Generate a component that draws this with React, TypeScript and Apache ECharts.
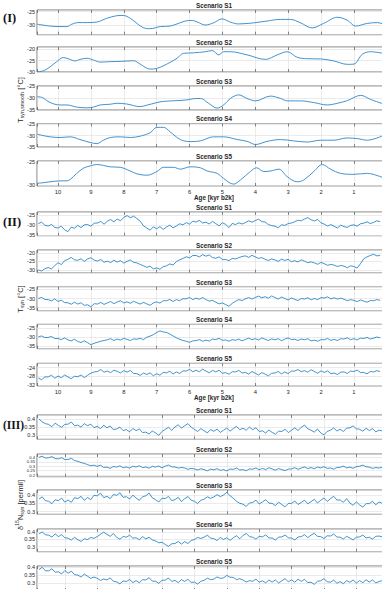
import React, { useEffect, useRef } from 'react';
import * as echarts from 'echarts';

// ---- (I) smoothed synthetic temperature, [age kyr b2k, °C] ----
const smoothS1 = [[10.64,-29.7],[10.24,-30.4],[9.94,-30.6],[9.73,-30.6],[9.58,-29.7],[9.39,-29.1],[9.12,-29.1],[8.82,-28.9],[8.52,-27.5],[8.21,-26.5],[8.02,-26.4],[7.8,-27.5],[7.6,-29.4],[7.41,-31.0],[7.2,-31.4],[6.89,-30.6],[6.59,-30.4],[6.38,-29.6],[6.08,-28.4],[5.92,-28.3],[5.76,-28.9],[5.52,-30.0],[5.27,-29.2],[5.01,-27.7],[4.76,-28.9],[4.51,-29.6],[4.05,-29.2],[3.64,-28.5],[3.23,-27.9],[2.93,-27.9],[2.62,-29.2],[2.27,-31.1],[1.92,-29.4],[1.5,-27.1],[1.2,-28.2],[0.95,-30.4],[0.59,-29.4],[0.28,-29.1],[0.12,-29.6]];
const smoothS2 = [[10.63,-30.0],[10.45,-29.6],[10.24,-27.8],[10.04,-25.5],[9.84,-23.7],[9.69,-24.2],[9.48,-25.2],[9.33,-24.5],[9.12,-24.0],[8.92,-24.8],[8.72,-25.7],[8.41,-25.5],[8.11,-25.4],[7.7,-25.1],[7.5,-26.6],[7.2,-28.8],[6.99,-28.5],[6.69,-26.6],[6.38,-24.0],[6.18,-21.8],[5.88,-21.6],[5.52,-21.1],[5.31,-20.6],[5.11,-22.5],[4.96,-21.1],[4.76,-21.1],[4.25,-22.5],[3.69,-24.5],[3.33,-22.5],[3.03,-21.1],[2.72,-23.6],[2.42,-24.2],[2.01,-24.3],[1.61,-25.2],[1.2,-26.7],[1.0,-26.6],[0.74,-22.2],[0.49,-21.1],[0.12,-21.8]];
const smoothS3 = [[10.63,-29.5],[10.5,-29.7],[10.24,-31.9],[9.94,-32.9],[9.73,-32.9],[9.43,-33.8],[9.12,-34.1],[8.92,-33.8],[8.72,-32.9],[8.41,-32.6],[8.21,-32.2],[7.91,-32.5],[7.5,-33.6],[7.3,-33.0],[6.99,-31.9],[6.79,-31.4],[6.38,-31.1],[6.08,-30.8],[5.88,-30.3],[5.67,-30.2],[5.42,-32.2],[5.16,-34.2],[4.96,-32.9],[4.76,-30.2],[4.5,-28.7],[4.25,-30.2],[3.99,-31.2],[3.54,-29.2],[3.23,-30.2],[3.03,-31.2],[2.62,-31.2],[2.22,-31.9],[1.81,-32.9],[1.5,-32.2],[1.2,-31.1],[0.79,-28.9],[0.49,-30.6],[0.12,-32.4]];
const smoothS4 = [[10.63,-29.3],[10.5,-29.8],[10.24,-30.5],[9.94,-30.8],[9.63,-30.5],[9.33,-31.7],[9.02,-33.0],[8.82,-33.5],[8.62,-32.0],[8.41,-30.8],[8.11,-30.5],[7.8,-30.8],[7.5,-30.2],[7.2,-28.7],[6.99,-26.3],[6.79,-26.3],[6.59,-28.3],[6.28,-31.7],[5.98,-32.6],[5.67,-32.3],[5.27,-30.5],[4.96,-30.5],[4.55,-31.7],[4.25,-32.5],[3.99,-33.9],[3.64,-32.5],[3.23,-31.7],[2.83,-32.3],[2.42,-32.8],[2.01,-32.0],[1.61,-32.0],[1.2,-31.0],[0.89,-31.3],[0.59,-32.0],[0.12,-30.0]];
const smoothS5 = [[10.63,-29.6],[10.45,-29.5],[10.24,-29.3],[9.94,-29.1],[9.73,-29.1],[9.63,-28.8],[9.43,-27.5],[9.23,-26.4],[9.02,-25.9],[8.82,-25.6],[8.62,-25.8],[8.41,-26.1],[8.11,-26.2],[7.8,-27.0],[7.6,-27.6],[7.3,-27.9],[6.99,-27.1],[6.79,-26.2],[6.48,-26.2],[6.28,-26.6],[5.98,-26.1],[5.67,-26.3],[5.46,-27.0],[5.16,-27.5],[4.96,-28.6],[4.66,-29.8],[4.45,-28.9],[4.15,-27.1],[3.96,-26.3],[3.74,-27.1],[3.54,-27.0],[3.28,-26.6],[3.03,-28.2],[2.72,-29.3],[2.52,-28.9],[2.22,-27.1],[1.96,-25.6],[1.71,-26.6],[1.4,-27.5],[1.0,-27.7],[0.59,-27.5],[0.12,-28.4]];

// ---- (II) synthetic temperature, one value every 0.1 kyr from 10.6 kyr b2k ----
const tSynS1 = [-29.3,-28.6,-30.1,-30.5,-29.7,-31.2,-31.5,-30.6,-32.4,-33.3,-31.1,-31.6,-30.2,-31.3,-29.9,-29.8,-30.6,-29.1,-29.0,-28.2,-29.6,-28.1,-27.3,-28.4,-27.0,-27.9,-26.2,-25.3,-26.4,-25.6,-26.8,-28.1,-30.4,-31.5,-32.6,-30.9,-31.9,-30.8,-32.2,-31.0,-30.1,-31.4,-30.5,-29.4,-29.9,-28.8,-29.6,-28.1,-28.5,-27.7,-29.0,-28.6,-29.5,-28.2,-29.3,-30.4,-28.9,-29.7,-31.3,-29.2,-29.8,-28.9,-29.5,-28.8,-27.9,-28.6,-27.8,-27.1,-28.3,-28.5,-29.8,-30.3,-30.6,-31.4,-29.9,-30.2,-29.3,-29.0,-28.4,-27.6,-27.9,-27.0,-26.3,-27.4,-28.0,-27.2,-28.9,-29.6,-30.5,-29.8,-30.6,-31.5,-30.1,-30.8,-31.2,-30.2,-29.9,-30.6,-29.4,-29.1,-28.4,-29.3,-28.7,-27.9,-28.3];
const tSynS2 = [-30.0,-30.6,-29.3,-28.6,-29.4,-27.5,-25.8,-26.9,-24.6,-23.8,-22.7,-24.1,-24.4,-23.5,-25.0,-23.6,-22.9,-24.3,-24.8,-23.9,-25.5,-24.9,-25.7,-24.3,-25.4,-24.6,-26.0,-25.0,-24.2,-25.6,-25.9,-26.8,-27.6,-28.5,-27.8,-29.4,-28.8,-29.6,-28.1,-27.6,-26.5,-27.1,-25.2,-24.1,-23.3,-22.3,-23.0,-21.6,-21.6,-22.4,-21.1,-22.0,-21.3,-22.8,-23.2,-22.4,-23.9,-23.9,-24.6,-23.3,-23.6,-22.8,-22.2,-21.8,-22.7,-21.5,-22.4,-23.3,-22.8,-23.8,-24.5,-23.6,-24.2,-25.0,-23.7,-24.5,-23.8,-25.2,-24.6,-25.4,-24.1,-24.9,-25.8,-25.3,-25.9,-26.7,-25.6,-26.4,-27.3,-26.8,-27.2,-28.0,-27.4,-27.8,-28.7,-27.6,-28.0,-28.9,-26.4,-23.5,-22.4,-21.6,-20.9,-21.8,-21.6];
const tSynS3 = [-30.0,-29.4,-30.5,-30.6,-31.3,-30.2,-31.6,-30.9,-32.2,-32.3,-33.1,-32.0,-33.0,-32.3,-33.7,-33.4,-34.5,-32.8,-33.0,-32.1,-33.2,-32.4,-31.6,-32.8,-31.9,-31.2,-32.4,-31.8,-32.6,-31.5,-32.3,-33.0,-32.1,-32.9,-33.7,-32.4,-31.8,-32.5,-31.2,-31.2,-30.5,-31.6,-30.6,-31.2,-30.1,-30.2,-29.4,-30.6,-29.8,-30.4,-29.5,-30.6,-31.4,-31.0,-32.0,-32.9,-32.4,-33.3,-34.2,-32.6,-31.5,-30.6,-31.1,-30.2,-29.5,-30.3,-29.4,-28.7,-29.6,-29.0,-29.8,-28.6,-29.5,-30.3,-29.2,-30.0,-30.8,-29.7,-30.4,-31.1,-30.0,-30.3,-29.6,-30.7,-30.0,-30.6,-29.5,-29.7,-29.1,-30.2,-29.6,-30.3,-29.8,-30.4,-31.2,-30.6,-31.0,-31.7,-30.8,-31.4,-32.0,-31.1,-31.2,-30.6,-31.0];
const tSynS4 = [-30.0,-29.5,-30.4,-30.3,-29.8,-30.9,-30.9,-31.5,-30.6,-31.6,-32.2,-31.3,-32.5,-33.1,-32.2,-33.2,-34.3,-33.5,-33.0,-32.4,-32.0,-31.6,-31.0,-32.0,-31.2,-31.7,-30.8,-31.4,-32.0,-31.1,-31.3,-30.8,-31.5,-30.2,-29.6,-28.8,-27.6,-26.7,-27.3,-27.6,-28.4,-29.5,-30.5,-31.3,-32.0,-32.4,-33.0,-32.2,-32.1,-31.5,-32.4,-31.8,-32.3,-31.2,-31.5,-30.8,-31.9,-31.7,-32.4,-31.5,-31.9,-31.2,-32.2,-31.4,-30.7,-31.6,-31.0,-31.7,-30.6,-31.3,-32.0,-31.1,-31.6,-31.0,-32.1,-31.2,-30.6,-31.5,-31.3,-32.0,-31.2,-31.6,-31.0,-32.2,-31.8,-32.4,-31.5,-31.6,-30.9,-31.9,-31.4,-32.0,-31.0,-31.2,-30.5,-31.6,-31.0,-31.7,-30.7,-30.9,-30.3,-31.2,-30.7,-30.1,-30.5];
const tSynS5 = [-28.8,-29.6,-28.3,-28.3,-27.5,-28.9,-27.9,-28.7,-27.4,-28.3,-29.1,-28.0,-28.2,-27.4,-28.6,-27.5,-26.6,-26.0,-25.8,-24.9,-26.1,-25.6,-26.3,-25.2,-25.7,-26.5,-25.4,-26.1,-25.3,-26.7,-26.8,-27.6,-26.5,-27.2,-26.4,-27.8,-26.8,-27.5,-26.2,-26.4,-25.7,-26.9,-26.0,-26.7,-25.5,-25.6,-24.8,-25.9,-25.2,-25.9,-24.7,-25.6,-26.4,-25.3,-26.0,-25.2,-26.6,-26.3,-27.1,-25.9,-26.0,-25.3,-26.5,-26.2,-27.0,-25.8,-26.6,-27.4,-26.3,-27.0,-27.8,-26.6,-26.5,-25.8,-26.9,-26.0,-26.8,-25.6,-25.6,-24.9,-25.9,-25.4,-26.1,-25.0,-25.8,-26.6,-25.5,-26.2,-25.5,-26.8,-26.5,-27.2,-26.1,-26.0,-26.7,-25.6,-25.8,-25.1,-26.3,-26.2,-26.9,-25.8,-26.0,-25.4,-25.8];

// ---- (III) synthetic δ15N, one value every 0.1 kyr from 10.8 kyr b2k ----
const d15nS1 = [0.400,0.382,0.371,0.366,0.352,0.374,0.360,0.348,0.366,0.368,0.381,0.357,0.362,0.349,0.371,0.358,0.368,0.346,0.354,0.340,0.361,0.345,0.356,0.333,0.338,0.349,0.327,0.334,0.320,0.341,0.327,0.338,0.315,0.318,0.306,0.325,0.313,0.298,0.322,0.335,0.348,0.329,0.350,0.364,0.343,0.358,0.371,0.349,0.335,0.322,0.340,0.326,0.313,0.334,0.323,0.337,0.316,0.330,0.343,0.324,0.340,0.354,0.333,0.342,0.330,0.349,0.333,0.345,0.322,0.326,0.312,0.331,0.316,0.305,0.324,0.322,0.336,0.315,0.330,0.345,0.328,0.348,0.362,0.339,0.330,0.318,0.337,0.313,0.301,0.322,0.330,0.344,0.325,0.336,0.322,0.343,0.344,0.357,0.338,0.336,0.324,0.342,0.328,0.340,0.319,0.331,0.325];
const d15nS2 = [0.400,0.412,0.392,0.395,0.408,0.386,0.383,0.396,0.375,0.376,0.388,0.364,0.355,0.341,0.332,0.318,0.305,0.312,0.298,0.312,0.286,0.291,0.276,0.298,0.290,0.305,0.283,0.292,0.279,0.301,0.291,0.306,0.284,0.292,0.278,0.299,0.290,0.303,0.282,0.300,0.314,0.293,0.292,0.279,0.286,0.280,0.266,0.276,0.270,0.258,0.272,0.262,0.249,0.268,0.260,0.273,0.254,0.262,0.248,0.269,0.265,0.279,0.258,0.262,0.250,0.270,0.267,0.281,0.261,0.275,0.262,0.283,0.270,0.256,0.274,0.262,0.251,0.268,0.270,0.284,0.265,0.280,0.293,0.274,0.285,0.272,0.291,0.281,0.295,0.276,0.280,0.267,0.286,0.288,0.301,0.282,0.290,0.277,0.296,0.300,0.313,0.294,0.290,0.276,0.285,0.280,0.288];
const d15nS3 = [0.375,0.389,0.366,0.362,0.348,0.371,0.366,0.381,0.357,0.370,0.356,0.384,0.378,0.392,0.368,0.385,0.372,0.398,0.395,0.411,0.384,0.392,0.378,0.403,0.398,0.413,0.386,0.390,0.376,0.399,0.382,0.368,0.390,0.395,0.412,0.383,0.372,0.358,0.381,0.378,0.392,0.366,0.372,0.386,0.360,0.378,0.391,0.369,0.362,0.349,0.368,0.375,0.389,0.380,0.388,0.402,0.390,0.400,0.416,0.395,0.380,0.362,0.350,0.345,0.331,0.352,0.355,0.369,0.346,0.358,0.372,0.351,0.350,0.336,0.357,0.342,0.329,0.349,0.350,0.364,0.343,0.355,0.369,0.347,0.360,0.374,0.352,0.368,0.382,0.361,0.378,0.392,0.370,0.370,0.356,0.378,0.352,0.338,0.359,0.340,0.327,0.348,0.348,0.362,0.341,0.358,0.350];
const d15nS4 = [0.390,0.402,0.383,0.380,0.367,0.389,0.370,0.384,0.362,0.359,0.346,0.365,0.348,0.336,0.355,0.350,0.364,0.358,0.370,0.386,0.401,0.385,0.372,0.391,0.365,0.352,0.371,0.366,0.380,0.359,0.362,0.348,0.370,0.354,0.366,0.347,0.340,0.327,0.331,0.315,0.302,0.320,0.322,0.336,0.318,0.335,0.322,0.343,0.350,0.364,0.357,0.366,0.380,0.360,0.356,0.343,0.364,0.350,0.362,0.344,0.362,0.376,0.355,0.378,0.392,0.370,0.366,0.352,0.372,0.368,0.382,0.361,0.360,0.347,0.366,0.368,0.381,0.362,0.360,0.347,0.367,0.370,0.384,0.363,0.380,0.393,0.372,0.370,0.357,0.376,0.374,0.388,0.367,0.366,0.353,0.372,0.360,0.347,0.366,0.368,0.381,0.361,0.366,0.353,0.372,0.374,0.368];
const d15nS5 = [0.384,0.398,0.377,0.376,0.389,0.368,0.370,0.357,0.378,0.361,0.374,0.353,0.350,0.338,0.356,0.343,0.330,0.338,0.330,0.317,0.326,0.320,0.333,0.312,0.308,0.296,0.314,0.310,0.323,0.304,0.316,0.303,0.322,0.320,0.334,0.313,0.312,0.299,0.318,0.319,0.332,0.311,0.317,0.304,0.322,0.311,0.324,0.305,0.307,0.295,0.312,0.318,0.331,0.322,0.325,0.339,0.330,0.333,0.348,0.337,0.336,0.322,0.328,0.320,0.307,0.316,0.312,0.325,0.306,0.315,0.302,0.320,0.307,0.320,0.301,0.315,0.328,0.309,0.320,0.306,0.325,0.311,0.324,0.304,0.306,0.293,0.312,0.315,0.328,0.309,0.306,0.319,0.300,0.310,0.297,0.316,0.306,0.320,0.301,0.316,0.303,0.321,0.307,0.320,0.302,0.310,0.316];

const SYN_T_START = 10.6;
const SYN_D15N_START = 10.8;
const SAMPLE_STEP = 0.1;

const SANS = '"Liberation Sans", Arial, Helvetica, sans-serif';
const SERIF = '"Liberation Serif", "Times New Roman", serif';
const INK = '#262626';
const BOX = '#3c3c3c';
const GRIDLINE = '#dedede';
const BLUE = '#0072bd';

const withAges = (start: number, values: number[]) =>
  values.map((v, i) => [Number((start - i * SAMPLE_STEP).toFixed(2)), v]);

type Sub = { top: number; height: number; yMin: number; yMax: number; step: number; tickFont?: number; data: number[][] };
type Panel = { label: string; labelY: number; labelSize: number; xMin: number; xMax: number; ageLabels: boolean; smooth: boolean; width: number; color: string; subs: Sub[]; yTitle: { y: number; parts: [string, number, number][] } };

const PLOT_LEFT = 37;
const PLOT_WIDTH = 354;

function buildPanels(): Panel[] {
  return [
    {
      label: '(I)', labelY: 18, labelSize: 12.5, xMin: -0.13, xMax: 10.64, ageLabels: true, smooth: true, width: 0.9, color: '#2f86c8',
      yTitle: { y: 100, parts: [['T', 7.5, 0], ['syn,smooth', 5.2, 2.2], [' [°C]', 7.5, 0]] },
      subs: [
        { top: 10, height: 24.7, yMin: -33.65, yMax: -24.36, step: 5, data: smoothS1 },
        { top: 47, height: 25, yMin: -30.1, yMax: -19, step: 5, data: smoothS2 },
        { top: 86, height: 24, yMin: -35, yMax: -25, step: 5, data: smoothS3 },
        { top: 123.5, height: 23.5, yMin: -35, yMax: -24.6, step: 5, data: smoothS4 },
        { top: 161, height: 25, yMin: -30.2, yMax: -24.85, step: 5, data: smoothS5 },
      ],
    },
    {
      label: '(II)', labelY: 222, labelSize: 12.5, xMin: -0.13, xMax: 10.64, ageLabels: true, smooth: false, width: 0.75, color: BLUE,
      yTitle: { y: 299, parts: [['T', 7.5, 0], ['syn', 5.2, 2.2], [' [°C]', 7.5, 0]] },
      subs: [
        { top: 212, height: 23.7, yMin: -35.35, yMax: -23.5, step: 5, data: withAges(SYN_T_START, tSynS1) },
        { top: 250, height: 22.7, yMin: -31.6, yMax: -18.4, step: 5, data: withAges(SYN_T_START, tSynS2) },
        { top: 286.7, height: 24, yMin: -36.6, yMax: -23.6, step: 5, data: withAges(SYN_T_START, tSynS3) },
        { top: 324.3, height: 24.4, yMin: -36.5, yMax: -23.1, step: 5, data: withAges(SYN_T_START, tSynS4) },
        { top: 363.3, height: 22.7, yMin: -32.5, yMax: -22, step: 4, data: withAges(SYN_T_START, tSynS5) },
      ],
    },
    {
      label: '(III)', labelY: 425, labelSize: 11.5, xMin: -0.07, xMax: 10.86, ageLabels: false, smooth: false, width: 0.75, color: BLUE,
      yTitle: { y: 505, parts: [['δ', 7.5, 0], ['15', 5.2, -2.6], ['N', 7.5, 0], ['syn', 5.2, 2.2], [' [permil]', 7.5, 0]] },
      subs: [
        { top: 415, height: 24.3, yMin: 0.273, yMax: 0.425, step: 0.05, data: withAges(SYN_D15N_START, d15nS1) },
        { top: 454, height: 22.7, yMin: 0.183, yMax: 0.437, step: 0.05, tickFont: 4.2, data: withAges(SYN_D15N_START, d15nS2) },
        { top: 490, height: 24.3, yMin: 0.284, yMax: 0.43, step: 0.05, data: withAges(SYN_D15N_START, d15nS3) },
        { top: 529, height: 22.7, yMin: 0.265, yMax: 0.423, step: 0.05, data: withAges(SYN_D15N_START, d15nS4) },
        { top: 566, height: 25, yMin: 0.252, yMax: 0.406, step: 0.05, data: withAges(SYN_D15N_START, d15nS5) },
      ],
    },
  ];
}

const isMultiple = (v: number, step: number) => Math.abs(v / step - Math.round(v / step)) < 1e-6;

function textWidth(ctx: CanvasRenderingContext2D | null, text: string, size: number, weight = 'normal') {
  if (!ctx) return text.length * size * 0.55;
  ctx.font = `${weight} ${size}px ${SANS}`;
  return ctx.measureText(text).width;
}

function buildOption() {
  const ctx = document.createElement('canvas').getContext('2d');
  const panels = buildPanels();
  const grid: any[] = [];
  const xAxis: any[] = [];
  const yAxis: any[] = [];
  const series: any[] = [];
  const graphic: any[] = [];
  const tick = { show: true, inside: true, length: 3, lineStyle: { color: BOX, width: 0.6 } };

  panels.forEach((p) => {
    p.subs.forEach((s, j) => {
      const g = grid.length;
      grid.push({
        left: PLOT_LEFT, top: s.top, width: PLOT_WIDTH, height: s.height,
        containLabel: false, outerBoundsMode: 'none',
        show: true, borderColor: BOX, borderWidth: 0.7, backgroundColor: 'transparent',
      });
      const xCommon = {
        type: 'value', gridIndex: g, min: p.xMin, max: p.xMax, inverse: true,
        splitNumber: 10, minInterval: 1, maxInterval: 1,
        axisLine: { show: false }, axisTick: tick,
      };
      const showAges = p.ageLabels && j === p.subs.length - 1;
      xAxis.push({
        ...xCommon, position: 'bottom',
        axisLabel: {
          show: showAges, fontSize: 5.8, color: INK, fontFamily: SANS, margin: 2.5,
          // the 0 kyr tick sits past the right edge of the figure
          formatter: (v: number) => (isMultiple(v, 1) && v > 0.5 ? String(Math.round(v)) : ''),
        },
        splitLine: { show: true, lineStyle: { color: GRIDLINE, width: 0.6 } },
      });
      xAxis.push({ ...xCommon, position: 'top', axisLabel: { show: false }, splitLine: { show: false } });
      yAxis.push({
        type: 'value', gridIndex: g, min: s.yMin, max: s.yMax,
        splitNumber: 3, minInterval: s.step, maxInterval: s.step,
        axisLine: { show: false }, axisTick: tick,
        axisLabel: {
          fontSize: s.tickFont ?? 5.5, color: INK, fontFamily: SANS, margin: 2,
          formatter: (v: number) => (isMultiple(v, s.step) ? String(Number(v.toFixed(3))) : ''),
        },
        splitLine: { show: true, lineStyle: { color: GRIDLINE, width: 0.6 } },
      });
      series.push({
        type: 'line', xAxisIndex: 2 * g, yAxisIndex: g, data: s.data,
        showSymbol: false, symbol: 'none', smooth: p.smooth ? 0.35 : false, silent: true,
        lineStyle: { color: p.color, width: p.width },
      });
      graphic.push({
        type: 'text', x: 214, y: s.top - 4.6, silent: true,
        style: { text: `Scenario S${j + 1}`, fontSize: 6.3, fontWeight: 'bold', fontFamily: SANS, fill: INK, align: 'center', verticalAlign: 'middle', textAlign: 'center', textVerticalAlign: 'middle' },
      });
    });

    if (p.ageLabels) {
      const last = p.subs[p.subs.length - 1];
      graphic.push({
        type: 'text', x: 214, y: last.top + last.height + 11, silent: true,
        style: { text: 'Age [kyr b2k]', fontSize: 6.3, fontWeight: 'bold', fontFamily: SANS, fill: INK, align: 'center', verticalAlign: 'middle', textAlign: 'center', textVerticalAlign: 'middle' },
      });
    }

    graphic.push({
      type: 'text', x: 3, y: p.labelY, silent: true,
      style: { text: p.label, fontSize: p.labelSize, fontWeight: 'bold', fontFamily: SERIF, fill: '#111', align: 'left', verticalAlign: 'middle', textAlign: 'left', textVerticalAlign: 'middle' },
    });

    // rotated axis title made of normal / sub / superscript pieces
    const widths = p.yTitle.parts.map(([t, size]) => textWidth(ctx, t, size));
    const total = widths.reduce((a, b) => a + b, 0);
    let cursor = -total / 2;
    const children = p.yTitle.parts.map(([t, size, shift], i) => {
      const el = {
        type: 'text', x: cursor, y: shift, silent: true,
        style: { text: t, fontSize: size, fontFamily: SANS, fill: INK, align: 'left', verticalAlign: 'middle', textAlign: 'left', textVerticalAlign: 'middle' },
      };
      cursor += widths[i];
      return el;
    });
    graphic.push({ type: 'group', x: 20, y: p.yTitle.y, rotation: Math.PI / 2, silent: true, children });
  });

  return {
    animation: false,
    backgroundColor: '#ffffff',
    grid, xAxis, yAxis, series,
    graphic: { elements: graphic },
  };
}

export default function App() {
  const ref = useRef<HTMLDivElement>(null);
  useEffect(() => {
    if (!ref.current) return;
    const chart = echarts.init(ref.current, undefined, { renderer: 'svg' });
    chart.setOption(buildOption() as any);
    return () => chart.dispose();
  }, []);
  return (
    <div
      ref={ref}
      style={{ position: 'fixed', left: 0, top: 0, width: 382, height: 589, background: '#ffffff' }}
    />
  );
}
